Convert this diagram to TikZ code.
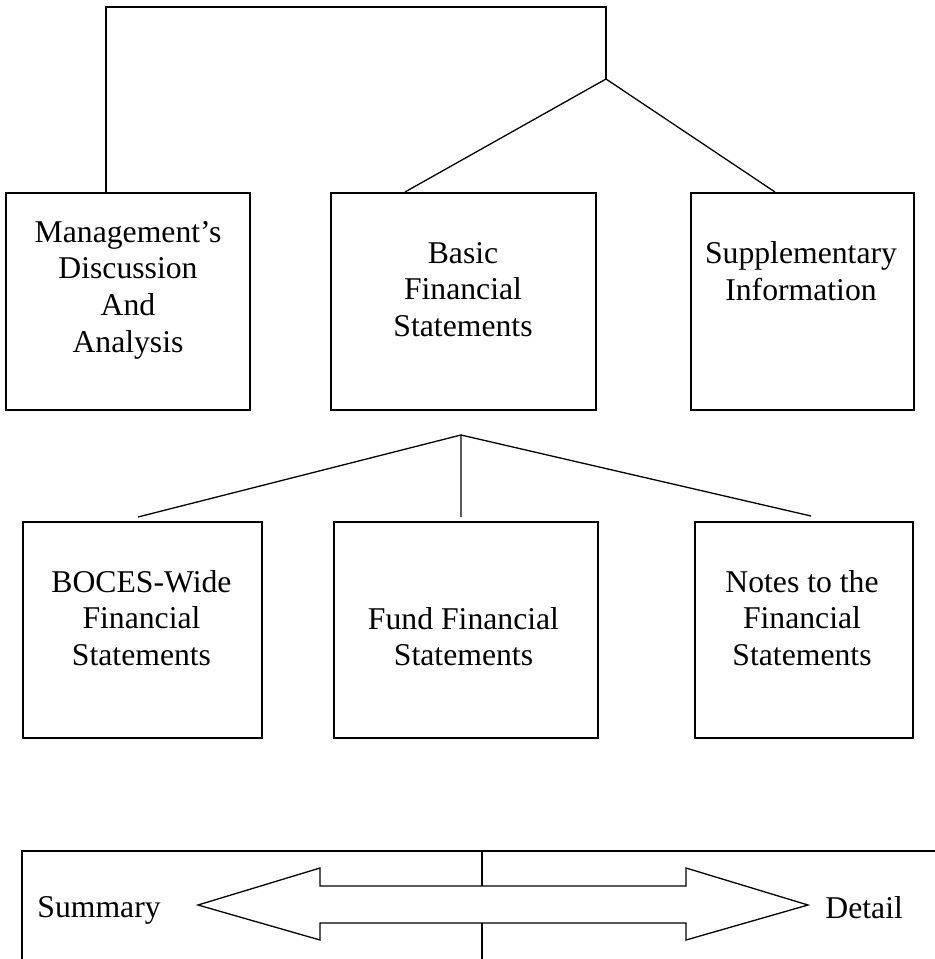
\documentclass[tikz,border=0pt]{standalone}
\usepackage{fontspec}
\setmainfont{Liberation Serif}
\begin{document}
\begin{tikzpicture}[x=0.5pt,y=-0.5pt,
		box/.style={draw=black, line width=1pt, inner sep=0pt},
		txt/.style={align=center, inner sep=0pt, font=\fontsize{15.85}{18.35}\selectfont},
		link/.style={black, line width=0.65pt}]
		\useasboundingbox (0,0) rectangle (935,959);
		% upper row
		\node[box, minimum width=122pt, minimum height=108.5pt] (mda) at (128,301.5) {};
		\node[box, minimum width=132.5pt, minimum height=108.5pt] (bfs) at (463.5,301.5) {};
		\node[box, minimum width=111.5pt, minimum height=108.5pt] (sup) at (802.5,301.5) {};
		\node[txt] (mdaText) at (128,290) {Management's\\Discussion\\And\\Analysis};
		\node[txt] (bfsText) at (463,289.5) {Basic\\Financial\\Statements};
		\node[txt] (supText) at (801,271) {Supplementary\\Information};
		% lower row
		\node[box, minimum width=119.5pt, minimum height=108pt] (bws) at (142.5,630) {};
		\node[box, minimum width=132pt, minimum height=108pt] (ffs) at (466,630) {};
		\node[box, minimum width=109pt, minimum height=108pt] (nfs) at (804,630) {};
		\node[txt] (bwsText) at (141.5,618) {BOCES-Wide\\Financial\\Statements};
		\node[txt] (ffsText) at (463.5,636.5) {Fund Financial\\Statements};
		\node[txt] (nfsText) at (802,618) {Notes to the\\Financial\\Statements};

		\coordinate (topL) at (106,7);
		\coordinate (topR) at (606,7);
		\coordinate (fork) at (606,79);
		\coordinate (fork2) at (461,435);
		\draw[link] ([xshift=-11pt]mda.north) -- (topL) -- (topR) -- (fork);
		\draw[link] ([xshift=-29.25pt]bfs.north) -- (fork) -- ([xshift=-13.75pt]sup.north);
		\draw[link] ([shift={(-2.25pt,2pt)}]bws.north) -- (fork2) -- ([shift={(-2.5pt,2pt)}]ffs.north);
		\draw[link] (fork2) -- ([shift={(3.5pt,2.5pt)}]nfs.north);

		% summary / detail scale
		\draw[black, line width=1pt] (22,975) -- (22,851) -- (945,851);
		\draw[link] (482,851) -- (482,886);
		\draw[link] (482,923) -- (482,975);
		\draw[link] (198,905) -- (320,868) -- (320,886) -- (686,886) -- (686,868) -- (808,905)
			-- (686,940) -- (686,923) -- (320,923) -- (320,940) -- cycle;
		\node[txt, anchor=base west] (sum) at (37,917) {Summary};
		\node[txt, anchor=base west] (det) at (825,918) {Detail};
	\end{tikzpicture}
\end{document}
